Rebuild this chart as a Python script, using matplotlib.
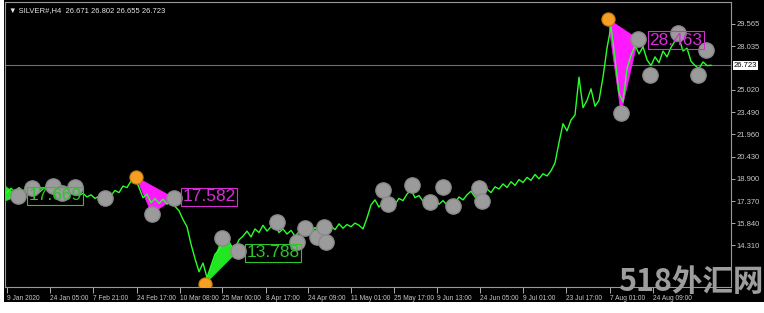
import matplotlib
matplotlib.use("Agg")
import matplotlib.pyplot as plt
from matplotlib.patches import Rectangle, Polygon

"""
Data read off the chart (x = bar position, price on right scale)
"""
bar_step = 4
close = [17.95, 18.25, 18.00, 18.30, 18.05, 18.35, 18.10, 18.28, 17.95, 18.20,
         18.40, 18.05, 18.25, 17.90, 18.15, 18.30, 17.95, 18.05, 17.75, 17.90,
         17.65, 17.80, 17.55, 17.70, 17.50, 17.85, 17.75, 18.10, 17.95, 18.40,
         18.30, 18.75, 18.95, 18.30, 17.60, 17.85, 17.25, 17.55, 17.20, 17.50,
         17.15, 17.45, 17.00, 16.70, 16.10, 15.60, 14.40, 13.40, 12.50, 13.10,
         12.10, 12.90, 13.70, 14.00, 14.60, 14.90, 14.30, 14.10, 14.70, 14.95,
         15.30, 14.90, 15.45, 15.20, 15.70, 15.30, 15.60, 15.75, 15.20, 15.45,
         15.10, 15.35, 14.95, 15.25, 15.05, 15.45, 15.15, 15.55, 15.30, 15.45,
         15.25, 15.65, 15.40, 15.80, 15.50, 15.75, 15.60, 15.85, 15.70, 15.45,
         16.20, 17.10, 17.45, 16.95, 17.30, 17.00, 17.40, 17.15, 17.55, 17.40,
         17.85, 18.15, 17.60, 17.75, 17.35, 17.55, 17.20, 17.45, 17.15, 17.40,
         17.10, 17.35, 17.25, 17.65, 17.45, 17.80, 18.05, 17.65, 17.95, 17.80,
         18.20, 17.95, 18.35, 18.20, 18.55, 18.30, 18.70, 18.45, 18.85, 18.65,
         19.00, 18.80, 19.20, 18.90, 19.25, 19.10, 19.45, 20.00, 21.40, 22.70,
         22.20, 22.95, 23.30, 25.90, 23.80, 24.30, 25.10, 23.90, 24.30, 25.90,
         27.90, 29.40, 27.20, 24.80, 24.20, 26.50, 27.40, 28.10, 27.50, 28.00,
         27.10, 26.70, 27.30, 26.90, 27.70, 27.30, 27.95, 28.40, 28.60, 27.70,
         27.90, 27.00, 26.70, 26.50, 26.95, 26.70, 26.72]
bars = [i * bar_step for i in range(len(close))]

# zigzag swing points (orange = main swings)
swing_x = [129, 198, 601]
swing_p = [19.03, 11.66, 29.91]
# grey intermediate points
dots_x = [11, 25, 46, 55, 68, 98, 145, 167, 215, 231, 270, 290, 298, 310, 317, 319,
          376, 381, 405, 423, 436, 446, 472, 475, 614, 631, 643, 671, 691, 699]
dots_p = [17.72, 18.27, 18.41, 17.93, 18.34, 17.58, 16.48, 17.58, 14.83, 13.93,
          15.93, 14.55, 15.52, 14.90, 15.59, 14.55, 18.13, 17.17, 18.48, 17.31,
          18.34, 17.03, 18.27, 17.38, 23.44, 28.53, 26.05, 28.94, 26.05, 27.77]

# wave triangles: (x list, price list, colour)
waves = [
    ([-2, -2, 11], [18.41, 17.37, 17.72], "#22e622"),
    ([129, 145, 167], [19.03, 16.48, 17.58], "#ff19ff"),
    ([198, 215, 231], [11.66, 14.83, 13.93], "#22e622"),
    ([601, 614, 631], [29.91, 23.44, 28.53], "#ff19ff"),
]

labels_txt = ["17.669", "17.582", "13.788", "28.463"]
labels_x = [48, 202, 266, 669]
labels_p = [17.72, 17.65, 13.80, 28.46]
labels_col = ["#2ec42e", "#d62ed6", "#2ec42e", "#d62ed6"]

price_ticks = [29.565, 28.035, 25.020, 23.490, 21.960, 20.430, 18.900, 17.370, 15.840, 14.310]
last_price = 26.723

date_pos = [0, 43, 86, 130, 173, 215, 259, 301, 344, 387, 430, 473, 516, 559, 603, 646]
date_lbl = ["9 Jan 2020", "24 Jan 05:00", "7 Feb 21:00", "24 Feb 17:00", "10 Mar 08:00",
            "25 Mar 00:00", "8 Apr 17:00", "24 Apr 09:00", "11 May 01:00", "25 May 17:00",
            "9 Jun 13:00", "24 Jun 05:00", "9 Jul 01:00", "23 Jul 17:00", "7 Aug 01:00",
            "24 Aug 09:00"]

"""
Figure
"""
W, H = 764, 313
fig = plt.figure(figsize=(W / 100, H / 100), dpi=100, facecolor="white")
bg = fig.add_axes([4 / W, 11 / H, 1, 1], zorder=0)
bg.set_facecolor("black")
bg.set_axis_off()
bg.add_patch(Rectangle((0, 0), 1, 1, transform=bg.transAxes, facecolor="black", edgecolor="none"))

ax = fig.add_axes([5 / W, (H - 287) / H, (731 - 5) / W, (287 - 2) / H], zorder=1)
ax.set_facecolor("black")
ax.set_xlim(-2, 724)
ax.set_ylim(11.45, 31.08)

for s in ["left", "top", "right", "bottom"]:
    ax.spines[s].set_color("#9a9a9a")
    ax.spines[s].set_linewidth(0.8)

ax.axhline(last_price, color="#6e6e6e", lw=0.8, zorder=1)

for wx, wp, wc in waves:
    ax.add_patch(Polygon(list(zip(wx, wp)), closed=True, facecolor=wc,
                         edgecolor=wc, lw=0.5, zorder=2))

ax.plot(bars, close, color="#2bff2b", lw=1.0, zorder=3)

ax.plot(dots_x, dots_p, "o", ms=11, color="#9b9b9b", mec="#8a8a8a", zorder=4)
ax.plot(swing_x, swing_p, "o", ms=9.5, color="#f5a023", mec="#c97a10", mew=0.8, zorder=5)

for t, lx, lp, lc in zip(labels_txt, labels_x, labels_p, labels_col):
    ax.text(lx, lp, t, color=lc, fontsize=12.5, family="Liberation Sans",
            ha="center", va="center", zorder=6,
            bbox=dict(boxstyle="square,pad=0.08", facecolor="none", edgecolor=lc, lw=0.8))

# axes ticks
ax.yaxis.tick_right()
ax.set_yticks(price_ticks)
ax.set_yticklabels([f"{v:.3f}" for v in price_ticks])
ax.tick_params(axis="y", colors="#c8c8c8", labelsize=5.5, length=3, pad=1, width=0.6)
for lbl in ax.get_yticklabels():
    lbl.set_family("Liberation Sans")

ax.set_xticks(date_pos)
ax.set_xticklabels(date_lbl)
ax.tick_params(axis="x", colors="#c8c8c8", labelsize=4.8, length=4, pad=1.5, width=0.6)
for lbl in ax.get_xticklabels():
    lbl.set_ha("left")
    lbl.set_family("Liberation Sans")

ax.text(1.004, last_price, f"{last_price:.3f}", transform=ax.get_yaxis_transform(),
        fontsize=5.5, family="Liberation Sans", color="black", ha="left", va="center",
        bbox=dict(boxstyle="square,pad=0.15", facecolor="white", edgecolor="none"))

fig.text(9 / W, 1 - 11 / H, "▼ SILVER#,H4  26.671 26.802 26.655 26.723", color="#e6e6e6",
         fontsize=5.5, family=["Liberation Sans", "DejaVu Sans"], ha="left", va="center")

fig.text(691 / W, 1 - 282 / H, "518外汇网", color="#9d9d9d", fontsize=22, weight="bold",
         family=["Noto Sans CJK SC", "DejaVu Sans"], ha="center", va="center", zorder=10)

plt.savefig("out.png", dpi=100, facecolor="white")
